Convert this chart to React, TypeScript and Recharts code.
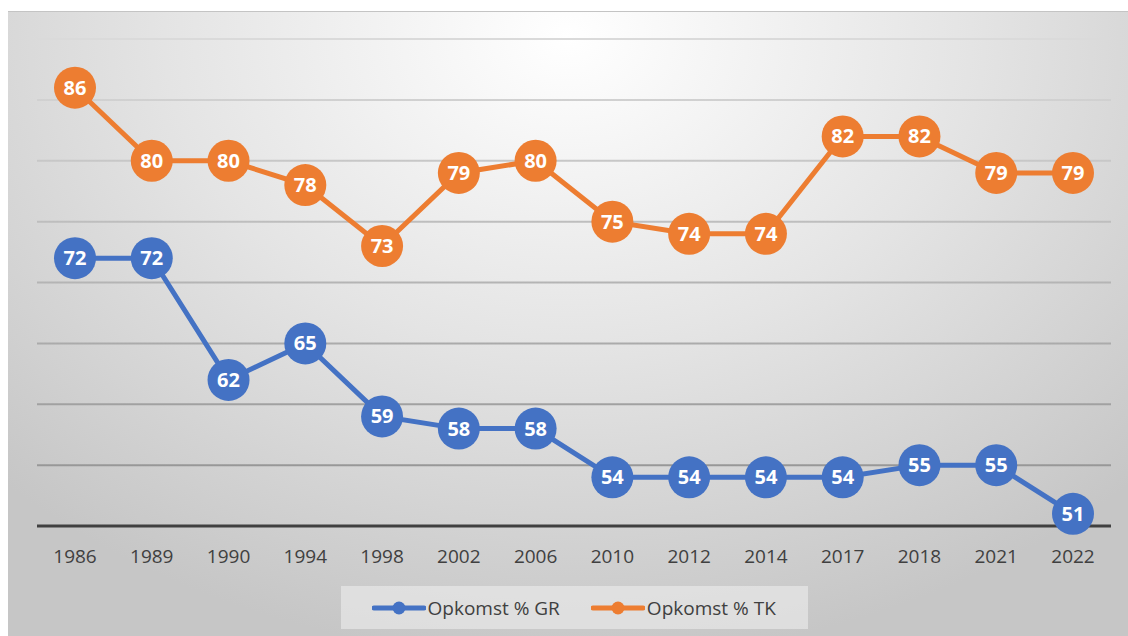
import { LineChart, Line, XAxis, YAxis, CartesianGrid, Legend, LabelList } from 'recharts';

const years = ['1986', '1989', '1990', '1994', '1998', '2002', '2006', '2010', '2012', '2014', '2017', '2018', '2021', '2022'];
const opkomstGR = [72, 72, 62, 65, 59, 58, 58, 54, 54, 54, 54, 55, 55, 51];
const opkomstTK = [86, 80, 80, 78, 73, 79, 80, 75, 74, 74, 82, 82, 79, 79];
const yTicks = [50, 55, 60, 65, 70, 75, 80, 85, 90];

const BLUE = '#4472C4';
const ORANGE = '#ED7D31';
const FONT = '"Open Sans", "Noto Sans", sans-serif';

const data = years.map((y, i) => ({ year: y, gr: opkomstGR[i], tk: opkomstTK[i] }));

const legendItems = [
    { name: 'Opkomst % GR', color: BLUE },
    { name: 'Opkomst % TK', color: ORANGE },
];

const LegendBox = () => (
    <div style={{ display: 'flex', justifyContent: 'center', paddingTop: 9 }}>
        <div style={{ display: 'flex', alignItems: 'center', height: 43, width: 467, boxSizing: 'border-box', background: 'rgba(240,240,240,0.55)', paddingLeft: 31, fontFamily: FONT, fontSize: 19, color: '#404040' }}>
            {legendItems.map((it, i) => (
                <div key={i} style={{ display: 'flex', alignItems: 'center', marginRight: i === 0 ? 31 : 0 }}>
                    <svg width={54} height={14}>
                        <line x1={2} y1={7} x2={52} y2={7} stroke={it.color} strokeWidth={5} strokeLinecap="round" />
                        <circle cx={27} cy={7} r={6.5} fill={it.color} />
                    </svg>
                    <span style={{ marginLeft: 2 }}>{it.name}</span>
                </div>
            ))}
        </div>
    </div>
);

const Label = ({ x, y, value }: any) => (
    <text x={x} y={y} dy={7} textAnchor="middle" fill="#fff" fontFamily={FONT} fontWeight="bold" fontSize={20}>
        {value}
    </text>
);

export default function App() {
    return (
        <div style={{ position: 'absolute', left: 8, top: 11, width: 1120, height: 625, borderTop: '1px solid #c4c4c4', boxSizing: 'border-box', background: 'radial-gradient(ellipse 72% 100% at 50% 4%, #ffffff 0%, #e4e4e4 50%, #c6c6c6 100%)' }}>
            <style>{'body{margin:0;overflow:hidden}'}</style>
            <LineChart width={1120} height={624} data={data} margin={{ top: 27, right: 17, left: 29, bottom: 0 }}>
                <defs>
                    <linearGradient id="gridGrad" gradientUnits="userSpaceOnUse" x1={0} y1={27} x2={0} y2={515}>
                        <stop offset="0%" stopColor="#dadada" />
                        <stop offset="100%" stopColor="#8e8e8e" />
                    </linearGradient>
                </defs>
                <CartesianGrid vertical={false} stroke="url(#gridGrad)" strokeWidth={2} />
                <XAxis
                    dataKey="year"
                    height={51}
                    padding={{ left: 38, right: 38 }}
                    tickLine={false}
                    tickSize={0}
                    tickMargin={24}
                    axisLine={{ stroke: '#404040', strokeWidth: 3 }}
                    tick={{ fill: '#404040', fontSize: 19, fontFamily: FONT }}
                    interval={0}
                />
                <YAxis hide domain={[50, 90]} ticks={yTicks} />
                <Legend verticalAlign="bottom" height={59} content={<LegendBox />} />
                <Line dataKey="gr" name="Opkomst % GR" stroke={BLUE} strokeWidth={5} dot={{ r: 21, fill: BLUE, stroke: 'none' }} activeDot={false} isAnimationActive={false}>
                    <LabelList dataKey="gr" content={<Label />} />
                </Line>
                <Line dataKey="tk" name="Opkomst % TK" stroke={ORANGE} strokeWidth={5} dot={{ r: 21, fill: ORANGE, stroke: 'none' }} activeDot={false} isAnimationActive={false}>
                    <LabelList dataKey="tk" content={<Label />} />
                </Line>
            </LineChart>
        </div>
    );
}
